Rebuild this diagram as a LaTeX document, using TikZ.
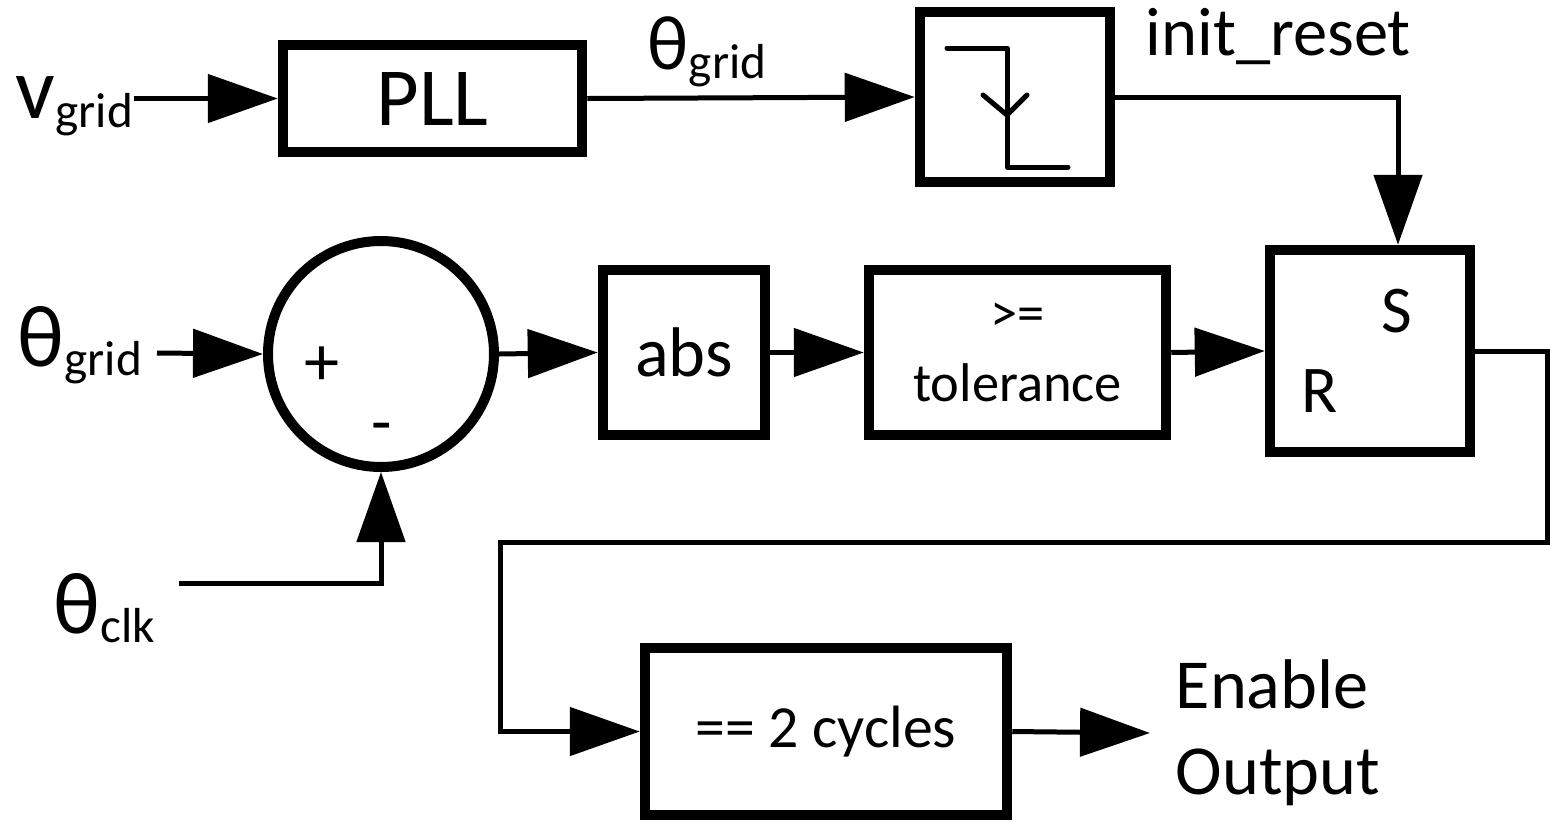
\documentclass[tikz,border=0pt]{standalone}
\usepackage{fontspec}
\setmainfont{Carlito}
\usetikzlibrary{arrows.meta,positioning}
\newcommand{\sigsub}[2]{#1\raisebox{-2.8pt}{\fontsize{14}{16}\selectfont #2}}

\begin{document}
\begin{tikzpicture}[>={Triangle[length=7mm,width=4.8mm]},
    box/.style={draw,line width=1.05mm,inner sep=0pt,font=\fontsize{20}{24}\selectfont},
    sumnode/.style={draw,circle,line width=1mm,minimum size=2.26cm,inner sep=0pt},
    wire/.style={line width=0.5mm},
    lbl/.style={inner sep=0pt,font=\fontsize{25}{29}\selectfont}]
  \useasboundingbox (0,0) rectangle (15.5,-8.22);
  % blocks
  \node[box,minimum width=2.99cm,minimum height=1.07cm,
        font=\fontsize{23.5}{27}\selectfont] (pll) at (4.325,-0.985) {PLL};
  \node[box,minimum width=1.90cm,minimum height=1.70cm] (edge) at (10.15,-0.97) {};
  \node[sumnode] (sum) at (3.81,-3.54) {};
  \node[box,minimum width=1.62cm,minimum height=1.65cm] (abs) at (6.84,-3.525) {abs};
  \node[box,minimum width=2.97cm,minimum height=1.65cm,align=center,
        font=\fontsize{15.5}{20}\selectfont] (tol) at (10.175,-3.525) {>=\\tolerance};
  \node[box,minimum width=2.00cm,minimum height=2.02cm] (sr) at (13.70,-3.51) {};
  \node[box,minimum width=3.62cm,minimum height=1.67cm,
        font=\fontsize{17}{21}\selectfont] (cyc) at (8.26,-7.315) {== 2 cycles};
  \node[font=\fontsize{19}{23}\selectfont] at ([shift={(0.27,0.40)}]sr.center) {S};
  \node[font=\fontsize{19}{23}\selectfont] at ([shift={(-0.50,-0.40)}]sr.center) {R};
  \node[font=\fontsize{20}{24}\selectfont] at ([shift={(-0.59,-0.12)}]sum.center) {+};
  \node[font=\fontsize{19}{23}\selectfont] at ([shift={(0.01,-0.80)}]sum.center) {-};
  \draw[wire,line cap=round,line join=round] ([shift={(-0.68,0.49)}]edge.center)
    -- ++(0.60,0) -- ++(0,-1.19) -- ++(0.61,0);
  \draw[wire,line cap=round,line join=round] ([shift={(-0.32,0.02)}]edge.center)
    -- ([shift={(-0.08,-0.18)}]edge.center) -- ([shift={(0.12,0.02)}]edge.center);
  % signals
  \node[lbl,anchor=base west] (vgrid) at (0.15,-1.18) {\sigsub{v}{grid}};
  \node[lbl,anchor=base west,font=\fontsize{22}{26}\selectfont] (thtop) at (6.47,-0.69) {\sigsub{θ}{grid}};
  \node[inner sep=0pt,anchor=base west,font=\fontsize{19.5}{23}\selectfont] (rst) at (11.45,-0.55) {init\_reset};
  \node[lbl,anchor=base west] (thgrid) at (0.17,-3.66) {\sigsub{θ}{grid}};
  \node[lbl,anchor=base west] (thclk) at (0.53,-6.33) {\sigsub{θ}{clk}};
  \coordinate (clkin) at (1.79,-5.83);
  \coordinate (gridin) at (1.57,-3.53);
  \coordinate (outend) at (11.50,-7.33);
  \node[right=0.25cm of outend,inner sep=0pt,align=left,
        font=\fontsize{20}{24.5}\selectfont] (en) {Enable\\Output};
  % connectors
  \draw[wire,->] (vgrid.east |- pll.west) -- (pll.west);
  \draw[wire,->] (pll.east) -- (edge.west);
  \draw[wire,->] (edge.east) -| ([xshift=0.28cm]sr.north);
  \draw[wire,->] (gridin) -- (sum.west);
  \draw[wire,->] (clkin) -| (sum.south);
  \draw[wire,->] (sum.east) -- (abs.west);
  \draw[wire,->] (abs.east) -- (tol.west);
  \draw[wire,->] (tol.east) -- (sr.west);
  \draw[wire,->,line join=miter] (sr.east) -- ++(0.72,0) |- (5.00,-5.42) |- (cyc.west);
  \draw[wire,->] (cyc.east) -- (outend);
\end{tikzpicture}
\end{document}
